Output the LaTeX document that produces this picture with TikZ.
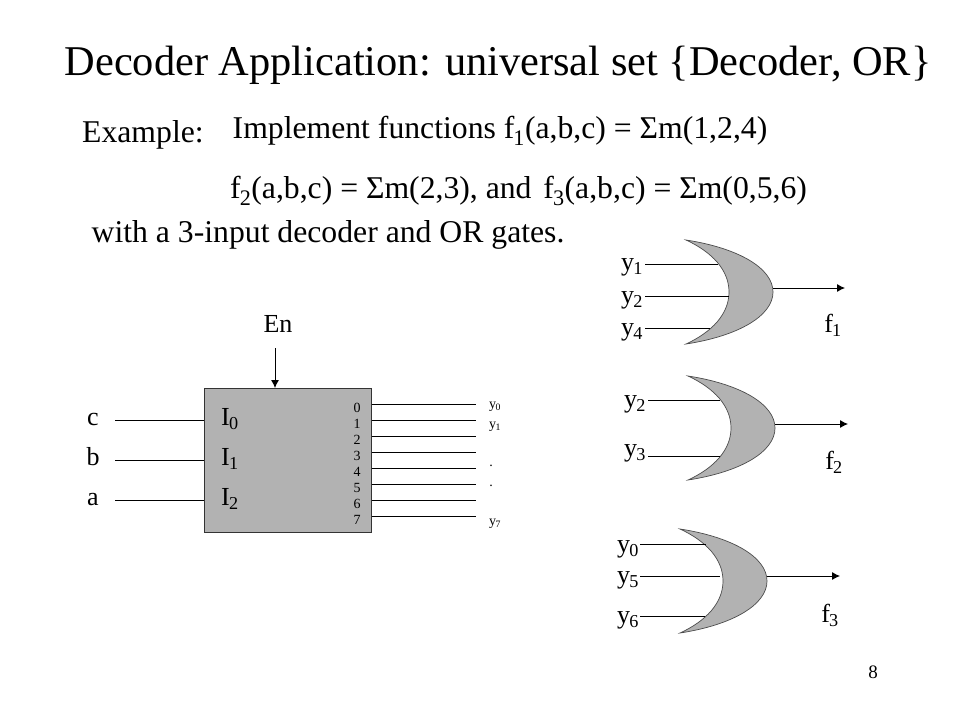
\documentclass[tikz,border=0pt]{standalone}
\usepackage{fontspec}
\setmainfont{Liberation Serif}
\usetikzlibrary{arrows.meta,positioning}
\definecolor{boxgray}{HTML}{B2B2B2}
\newcommand{\fs}[1]{\fontsize{#1}{#1}\selectfont}
\newcommand{\sbs}[1]{\kern-0.03em\raisebox{-0.04em}{\textsubscript{#1}}}
\tikzset{%
    headtxt/.style = { inner sep=0pt, anchor=base west, font=\fs{42.4} },
    linetxt/.style = { inner sep=0pt, anchor=base west, font=\fs{31.7} },
     sigtxt/.style = { inner sep=0pt, anchor=base, font=\fs{26} },
    porttxt/.style = { inner sep=0pt, anchor=base west, font=\fs{26} },
   smalltxt/.style = { inner sep=0pt, anchor=base, font=\fs{14} },
       wire/.style = { line width=0.9pt },
        arr/.style = { wire, -{Latex[length=8pt,width=8pt]} },
     orgate/.pic = {
       \draw [fill=boxgray, draw=black!70, line width=0.7pt] (0,0) coordinate (-top)
         .. controls (52,8) and (87,28) .. (87,52) coordinate (-out)
         .. controls (87,76) and (52,96) .. (0,104) coordinate (-bot)
         .. controls (26,92) and (43,74) .. (43,52)
         .. controls (43,30) and (26,12) .. (0,0) -- cycle;
     }
}
\begin{document}
\begin{tikzpicture}[x=1pt,y=-1pt]
\useasboundingbox [fill=white] (0,0) rectangle (960,720);
% text at the top
\node [headtxt] (head) at (64.5,75) {Decoder Application: universal set \{Decoder, OR\}};
\node [linetxt] (ex) at (82,142) {Example:};
\node [linetxt] (l1) at (232.5,138) {Implement functions f\sbs{1}(a,b,c) = Σm(1,2,4)};
\node [linetxt] (l2) at (230,198) {f\sbs{2}(a,b,c) = Σm(2,3), and\hspace{4pt} f\sbs{3}(a,b,c) = Σm(0,5,6)};
\node [linetxt] (l3) at (91.5,242) {with a 3-input decoder and OR gates.};
% decoder
\node [draw=black!80, fill=boxgray, line width=0.7pt, minimum width=167.5pt, minimum height=144pt, inner sep=0pt, anchor=north west] (dec) at (203.5,388) {};
\node [sigtxt] (en) at (278,332) {En};
\coordinate (en0) at (275,348);
\draw [arr] (en0) -- (en0|-dec.north);
\foreach \n/\t/\y/\p in {c/c/420/0, b/b/460/1, a/a/500/2} {
  \node [sigtxt] (in\n) at (93,\y+5) {\t};
  \coordinate (w\n) at (115,\y);
  \draw [wire] (w\n) -- (w\n-|dec.west);
  \node [porttxt] (I\p) at (221,\y+5) {I\sbs{\p}};
}
\foreach \i in {0,...,7} {
  \node [smalltxt] (d\i) at (357,412+16*\i) {\i};
  \coordinate (o\i) at (476,404+16*\i);
  \draw [wire] (o\i-|dec.east) -- (o\i);
}
\node [smalltxt] (y0) at (495,408) {y\sbs{0}};
\node [smalltxt] (y1) at (495,428) {y\sbs{1}};
\node [smalltxt] (dot1) at (491,466) {.};
\node [smalltxt] (dot2) at (491,486) {.};
\node [smalltxt] (y7) at (495,525) {y\sbs{7}};
% gates
\pic (g1) at (686,240) {orgate};
\pic (g2) at (688,376) {orgate};
\pic (g3) at (680,529) {orgate};
\foreach \n/\t/\lx/\ly/\x/\xe/\y in {a/1/632/270/645/718/264, b/2/632/303/645/729/296, c/4/632/335/645/710/328,
    d/2/635/407/648/720/400, e/3/635/456/648/720/456,
    f/0/628/552/640/706/544, g/5/628/583/640/720/576, h/6/628/623/640/705/616} {
  \node [sigtxt] (p\n) at (\lx,\ly) {y\sbs{\t}};
  \coordinate (s\n) at (\x,\y);
  \coordinate (t\n) at (\xe,\y);
  \draw [wire] (s\n) -- (t\n);
}
\coordinate (f1e) at (845,288);
\coordinate (f2e) at (848,424);
\coordinate (f3e) at (840,576);
\draw [arr] (f1e-|g1-out) -- (f1e);
\draw [arr] (f2e-|g2-out) -- (f2e);
\draw [arr] (f3e-|g3-out) -- (f3e);
\node [sigtxt] (f1) at (833,332) {f\sbs{1}};
\node [sigtxt] (f2) at (834,469) {f\sbs{2}};
\node [sigtxt] (f3) at (830,622) {f\sbs{3}};
\node [inner sep=0pt, anchor=base, font=\fs{19}] (page) at (873,678) {8};
\end{tikzpicture}
\end{document}
